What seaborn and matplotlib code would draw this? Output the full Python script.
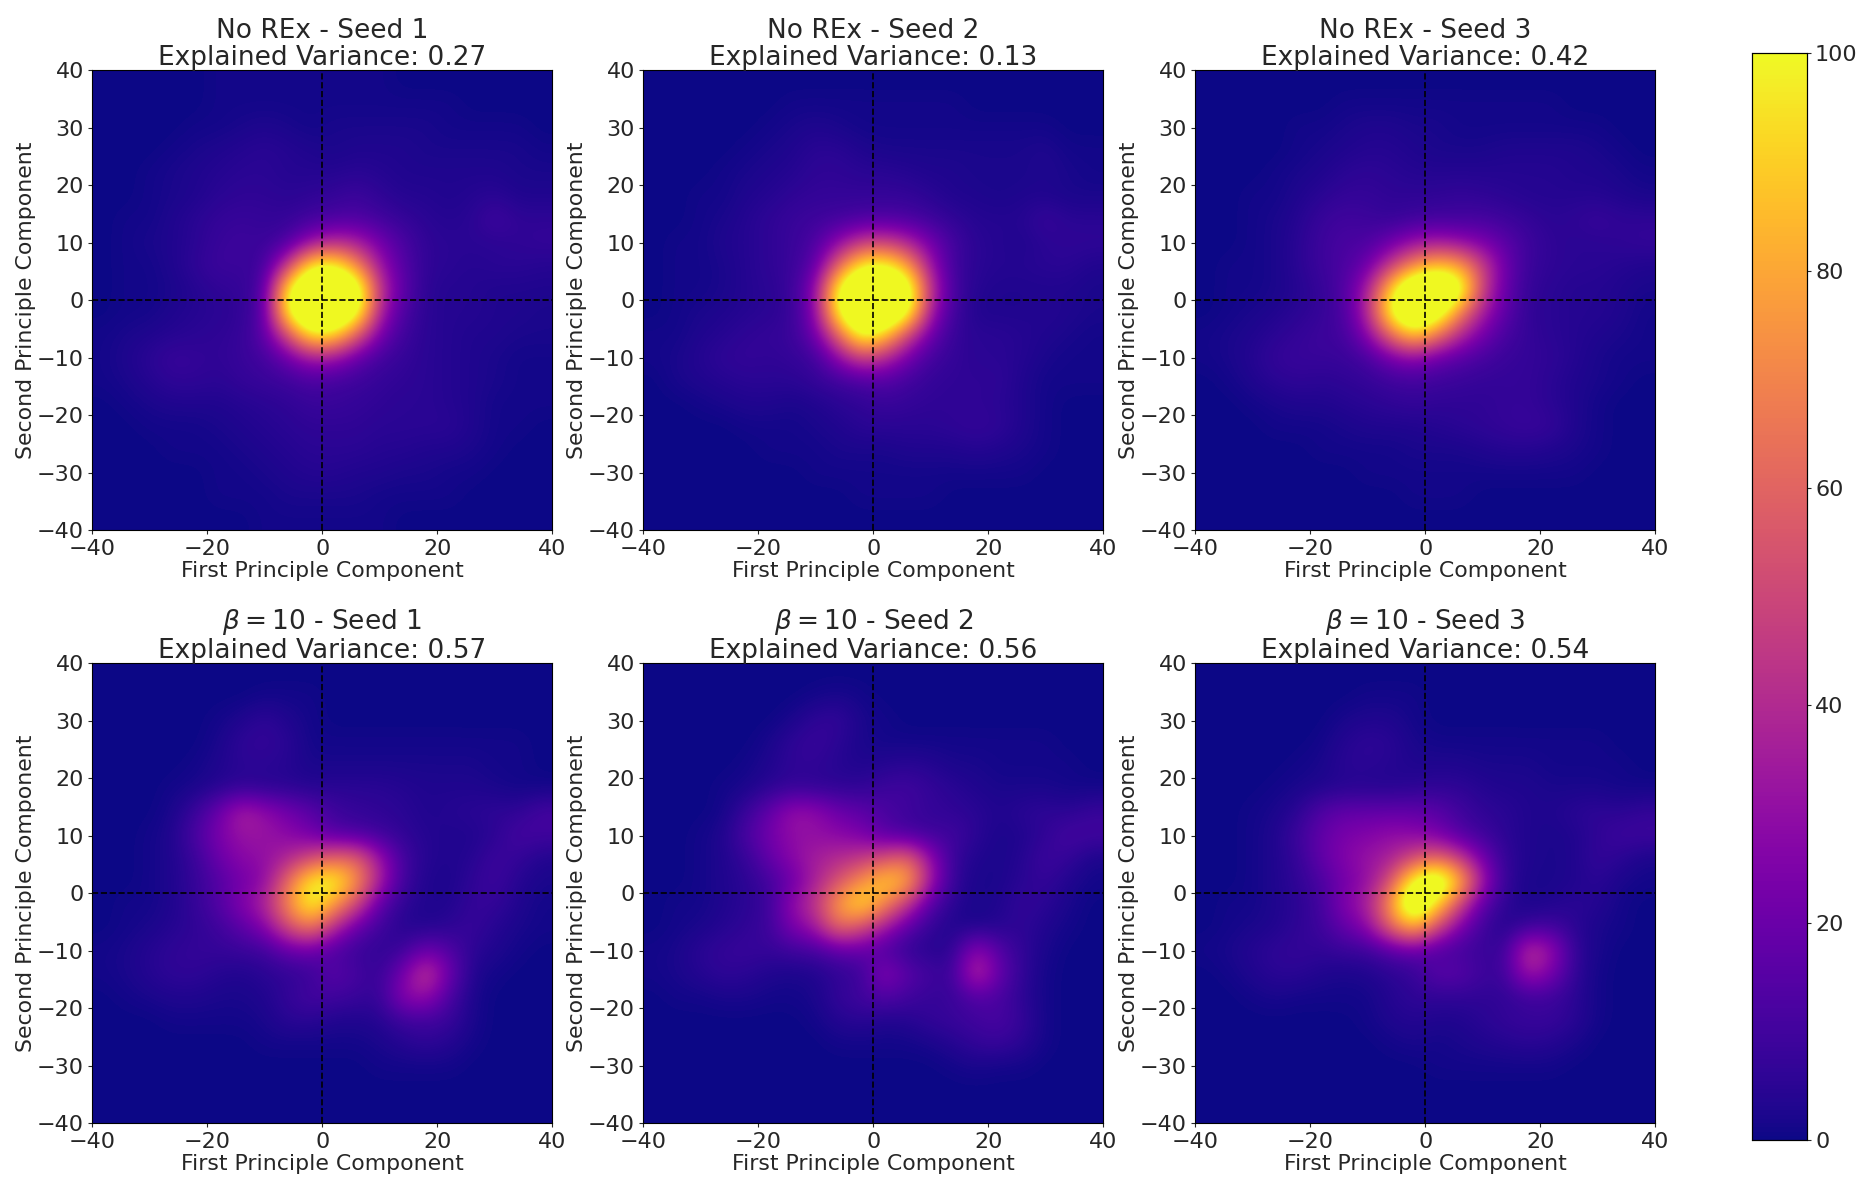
#!/usr/bin/env python3
"""
PCA density heatmaps: No REx vs beta=10, three seeds each
Cell values read off the reference, 4 units per cell, top row is y=38
"""

import numpy as np
import matplotlib
matplotlib.use('Agg')
import matplotlib.pyplot as plt
import seaborn as sns

no_rex_seed1 = [
    [0, 0, 0, 0, 0, 1, 1, 1, 1, 1, 1, 1, 1, 0, 0, 0, 0, 0, 0, 0],
    [0, 0, 0, 0, 0, 1, 1, 1, 1, 1, 1, 1, 1, 1, 1, 1, 0, 0, 0, 0],
    [0, 0, 0, 0, 1, 1, 2, 3, 2, 1, 2, 2, 2, 2, 2, 1, 1, 1, 1, 0],
    [0, 0, 0, 1, 2, 3, 4, 5, 4, 3, 2, 3, 3, 3, 2, 2, 2, 2, 2, 1],
    [0, 0, 1, 2, 3, 4, 5, 5, 4, 4, 4, 5, 4, 3, 3, 3, 3, 3, 2, 2],
    [0, 0, 1, 2, 3, 5, 6, 6, 5, 6, 7, 9, 6, 4, 4, 3, 4, 5, 3, 3],
    [0, 1, 1, 3, 5, 7, 8, 7, 7, 10, 12, 13, 10, 7, 5, 4, 5, 10, 6, 6],
    [0, 1, 2, 3, 5, 8, 9, 8, 12, 30, 40, 36, 22, 12, 6, 5, 5, 5, 6, 7],
    [0, 1, 1, 3, 6, 9, 8, 9, 45, 100, 105, 72, 32, 14, 6, 5, 4, 5, 5, 4],
    [0, 1, 1, 2, 4, 6, 7, 12, 100, 140, 140, 120, 42, 16, 5, 4, 4, 3, 3, 3],
    [0, 1, 1, 3, 4, 5, 6, 14, 105, 140, 140, 112, 36, 12, 5, 4, 4, 3, 3, 2],
    [1, 2, 3, 4, 5, 6, 7, 16, 52, 100, 95, 58, 22, 9, 5, 4, 3, 3, 2, 2],
    [1, 3, 5, 8, 7, 6, 8, 10, 20, 34, 32, 18, 10, 7, 5, 4, 3, 2, 1, 1],
    [1, 2, 4, 6, 6, 5, 7, 8, 9, 12, 10, 9, 7, 6, 5, 4, 3, 2, 1, 1],
    [0, 1, 2, 3, 3, 3, 4, 5, 6, 8, 8, 7, 6, 5, 5, 4, 3, 1, 1, 1],
    [0, 0, 1, 1, 1, 2, 3, 4, 5, 6, 6, 6, 5, 5, 5, 5, 3, 1, 1, 0],
    [0, 0, 0, 1, 1, 1, 2, 3, 4, 5, 5, 5, 4, 4, 3, 3, 2, 1, 0, 0],
    [0, 0, 0, 0, 0, 1, 1, 2, 3, 4, 4, 3, 3, 2, 2, 1, 1, 0, 0, 0],
    [0, 0, 0, 0, 0, 1, 1, 1, 2, 2, 2, 2, 1, 1, 1, 1, 0, 0, 0, 0],
    [0, 0, 0, 0, 0, 0, 0, 1, 1, 1, 1, 1, 1, 0, 0, 0, 0, 0, 0, 0],
]

no_rex_seed2 = [
    [0, 0, 0, 0, 0, 0, 0, 0, 0, 0, 0, 0, 0, 0, 0, 0, 0, 0, 0, 0],
    [0, 0, 0, 0, 0, 0, 1, 1, 1, 1, 1, 1, 1, 1, 0, 0, 0, 0, 0, 0],
    [0, 0, 0, 0, 0, 1, 2, 3, 2, 1, 1, 1, 1, 1, 1, 1, 1, 1, 0, 0],
    [0, 0, 0, 0, 1, 2, 3, 5, 5, 3, 2, 2, 2, 2, 2, 2, 2, 3, 1, 1],
    [0, 0, 0, 1, 2, 3, 4, 6, 6, 5, 5, 4, 3, 3, 2, 2, 2, 3, 2, 1],
    [0, 0, 1, 1, 3, 4, 6, 7, 7, 7, 7, 7, 5, 3, 3, 2, 3, 3, 2, 2],
    [0, 0, 1, 2, 4, 6, 8, 9, 10, 12, 13, 12, 9, 6, 4, 4, 4, 8, 5, 5],
    [0, 1, 1, 3, 4, 6, 8, 12, 28, 45, 48, 38, 22, 10, 5, 4, 3, 5, 6, 6],
    [0, 1, 1, 2, 4, 6, 8, 16, 60, 100, 105, 80, 32, 9, 5, 4, 4, 5, 5, 3],
    [0, 1, 1, 2, 4, 5, 8, 26, 105, 140, 140, 120, 42, 10, 4, 3, 3, 3, 3, 2],
    [0, 1, 2, 3, 4, 5, 7, 26, 105, 140, 140, 112, 34, 9, 3, 3, 3, 4, 3, 2],
    [1, 1, 3, 4, 6, 7, 8, 20, 60, 110, 92, 50, 20, 7, 5, 5, 4, 3, 2, 1],
    [1, 2, 4, 6, 7, 6, 7, 9, 28, 48, 40, 22, 10, 7, 5, 5, 4, 2, 1, 1],
    [0, 2, 3, 4, 5, 5, 5, 7, 9, 12, 14, 10, 7, 6, 6, 6, 3, 1, 1, 1],
    [0, 0, 1, 2, 3, 3, 2, 3, 5, 6, 8, 7, 6, 6, 6, 5, 3, 1, 0, 0],
    [0, 0, 0, 0, 1, 1, 1, 2, 3, 5, 5, 5, 5, 6, 7, 6, 3, 1, 0, 0],
    [0, 0, 0, 0, 0, 1, 1, 1, 2, 2, 2, 3, 3, 3, 4, 3, 2, 1, 0, 0],
    [0, 0, 0, 0, 0, 0, 0, 1, 1, 1, 1, 1, 1, 1, 1, 1, 1, 0, 0, 0],
    [0, 0, 0, 0, 0, 0, 0, 0, 0, 1, 1, 1, 1, 0, 0, 0, 0, 0, 0, 0],
    [0, 0, 0, 0, 0, 0, 0, 0, 0, 0, 0, 0, 0, 0, 0, 0, 0, 0, 0, 0],
]

no_rex_seed3 = [
    [0, 0, 0, 0, 0, 0, 0, 0, 0, 0, 0, 0, 0, 0, 0, 0, 0, 0, 0, 0],
    [0, 0, 0, 0, 0, 0, 1, 1, 1, 1, 1, 1, 1, 1, 1, 1, 0, 0, 0, 0],
    [0, 0, 0, 0, 1, 1, 2, 3, 3, 2, 2, 1, 1, 1, 1, 1, 1, 1, 0, 0],
    [0, 0, 0, 0, 1, 2, 3, 4, 4, 3, 2, 2, 2, 3, 3, 3, 3, 2, 1, 0],
    [0, 0, 0, 1, 2, 3, 5, 6, 5, 4, 4, 4, 4, 4, 4, 4, 3, 3, 2, 1],
    [0, 0, 1, 1, 3, 5, 7, 7, 6, 6, 6, 7, 6, 5, 4, 4, 4, 4, 3, 2],
    [0, 0, 1, 2, 4, 8, 10, 9, 7, 9, 10, 10, 11, 9, 7, 5, 6, 8, 6, 6],
    [0, 0, 1, 2, 5, 9, 12, 12, 20, 30, 34, 30, 24, 16, 9, 6, 5, 5, 6, 7],
    [0, 1, 1, 2, 5, 9, 12, 20, 45, 72, 88, 80, 48, 20, 8, 6, 5, 5, 4, 3],
    [0, 1, 1, 2, 4, 7, 13, 34, 90, 135, 140, 118, 48, 18, 7, 5, 4, 4, 3, 2],
    [0, 1, 2, 3, 5, 7, 12, 38, 105, 140, 122, 72, 36, 16, 6, 5, 4, 4, 3, 1],
    [1, 2, 3, 5, 7, 9, 10, 26, 62, 92, 68, 40, 22, 11, 7, 5, 4, 3, 2, 1],
    [1, 2, 4, 7, 8, 8, 8, 11, 22, 28, 20, 15, 11, 8, 7, 6, 4, 2, 1, 1],
    [0, 1, 3, 5, 6, 5, 6, 7, 9, 10, 9, 8, 7, 7, 7, 5, 3, 2, 1, 0],
    [0, 0, 1, 2, 3, 3, 4, 5, 6, 7, 6, 6, 6, 7, 7, 5, 3, 1, 0, 0],
    [0, 0, 0, 1, 1, 1, 2, 3, 3, 3, 4, 5, 6, 7, 8, 7, 3, 1, 0, 0],
    [0, 0, 0, 0, 0, 1, 1, 1, 1, 2, 2, 2, 3, 4, 4, 3, 2, 1, 0, 0],
    [0, 0, 0, 0, 0, 0, 0, 1, 1, 1, 1, 1, 1, 1, 1, 1, 1, 0, 0, 0],
    [0, 0, 0, 0, 0, 0, 0, 0, 0, 1, 1, 1, 0, 0, 0, 0, 0, 0, 0, 0],
    [0, 0, 0, 0, 0, 0, 0, 0, 0, 0, 0, 0, 0, 0, 0, 0, 0, 0, 0, 0],
]

beta_seed1 = [
    [0, 0, 0, 0, 0, 0, 0, 0, 0, 0, 0, 0, 0, 0, 0, 0, 0, 0, 0, 0],
    [0, 0, 0, 0, 0, 0, 0, 1, 1, 1, 0, 0, 0, 0, 0, 0, 0, 0, 0, 0],
    [0, 0, 0, 0, 0, 1, 3, 6, 3, 1, 0, 0, 0, 0, 0, 0, 0, 0, 0, 0],
    [0, 0, 0, 0, 0, 2, 6, 7, 5, 1, 1, 1, 1, 1, 1, 1, 1, 1, 1, 0],
    [0, 0, 0, 0, 1, 3, 5, 5, 4, 2, 2, 2, 2, 2, 2, 2, 2, 1, 1, 0],
    [0, 0, 0, 1, 2, 4, 6, 5, 5, 4, 5, 5, 5, 4, 3, 3, 3, 2, 1, 1],
    [0, 0, 0, 2, 8, 20, 38, 30, 22, 16, 9, 7, 6, 5, 3, 4, 5, 6, 6, 11],
    [0, 0, 1, 3, 12, 24, 32, 32, 28, 22, 14, 12, 9, 6, 4, 3, 3, 5, 11, 10],
    [0, 0, 1, 3, 8, 20, 28, 30, 38, 50, 60, 60, 32, 10, 4, 3, 4, 9, 7, 3],
    [0, 0, 1, 3, 7, 14, 22, 28, 62, 100, 105, 75, 36, 9, 3, 2, 6, 9, 4, 2],
    [0, 1, 1, 3, 7, 14, 26, 38, 72, 105, 78, 50, 16, 5, 3, 3, 7, 7, 3, 1],
    [0, 1, 2, 4, 6, 9, 16, 26, 52, 68, 40, 18, 9, 4, 3, 5, 8, 4, 2, 1],
    [1, 2, 4, 6, 7, 7, 8, 9, 18, 20, 12, 8, 6, 8, 20, 14, 5, 3, 1, 0],
    [1, 2, 4, 6, 6, 4, 3, 5, 6, 8, 16, 11, 7, 22, 48, 20, 3, 1, 0, 0],
    [0, 1, 2, 3, 3, 2, 2, 3, 7, 11, 10, 8, 7, 28, 32, 12, 2, 0, 0, 0],
    [0, 0, 0, 1, 1, 1, 1, 2, 5, 5, 3, 3, 4, 9, 10, 8, 2, 0, 0, 0],
    [0, 0, 0, 0, 0, 0, 0, 1, 1, 1, 1, 1, 2, 4, 6, 4, 1, 0, 0, 0],
    [0, 0, 0, 0, 0, 0, 0, 0, 0, 0, 0, 0, 1, 1, 1, 1, 0, 0, 0, 0],
    [0, 0, 0, 0, 0, 0, 0, 0, 0, 0, 0, 0, 0, 0, 0, 0, 0, 0, 0, 0],
    [0, 0, 0, 0, 0, 0, 0, 0, 0, 0, 0, 0, 0, 0, 0, 0, 0, 0, 0, 0],
]

beta_seed2 = [
    [0, 0, 0, 0, 0, 0, 0, 0, 0, 0, 0, 0, 0, 0, 0, 0, 0, 0, 0, 0],
    [0, 0, 0, 0, 0, 0, 0, 1, 2, 1, 0, 0, 0, 0, 0, 0, 0, 0, 0, 0],
    [0, 0, 0, 0, 0, 0, 2, 6, 7, 2, 1, 0, 0, 0, 0, 0, 0, 0, 0, 0],
    [0, 0, 0, 0, 0, 2, 6, 8, 5, 2, 1, 1, 1, 1, 1, 1, 1, 1, 0, 0],
    [0, 0, 0, 0, 1, 3, 6, 6, 4, 3, 4, 5, 4, 2, 2, 1, 1, 1, 1, 0],
    [0, 0, 0, 1, 2, 5, 7, 6, 6, 6, 9, 10, 7, 5, 3, 2, 2, 2, 1, 1],
    [0, 0, 0, 1, 8, 18, 32, 30, 20, 17, 12, 9, 7, 6, 5, 3, 5, 6, 5, 8],
    [0, 0, 1, 3, 12, 22, 30, 30, 28, 24, 15, 11, 9, 10, 5, 2, 3, 6, 11, 10],
    [0, 0, 1, 3, 7, 18, 28, 36, 40, 44, 52, 62, 30, 7, 3, 2, 4, 9, 7, 2],
    [0, 0, 1, 3, 5, 10, 20, 36, 54, 74, 92, 84, 34, 6, 2, 2, 5, 7, 3, 1],
    [0, 1, 1, 3, 5, 8, 30, 44, 78, 98, 72, 44, 14, 4, 2, 3, 7, 5, 2, 0],
    [0, 1, 2, 4, 6, 9, 24, 34, 64, 52, 34, 16, 6, 3, 2, 4, 6, 3, 1, 0],
    [1, 2, 5, 7, 8, 7, 9, 10, 16, 18, 12, 6, 4, 5, 30, 14, 6, 2, 0, 0],
    [1, 2, 4, 6, 5, 3, 2, 3, 6, 8, 28, 16, 10, 8, 45, 18, 6, 1, 0, 0],
    [0, 1, 1, 2, 2, 1, 1, 2, 7, 10, 14, 10, 7, 8, 14, 12, 5, 1, 0, 0],
    [0, 0, 0, 0, 0, 0, 0, 1, 4, 5, 3, 4, 7, 8, 10, 12, 7, 1, 0, 0],
    [0, 0, 0, 0, 0, 0, 0, 0, 1, 1, 1, 1, 2, 4, 7, 8, 5, 1, 0, 0],
    [0, 0, 0, 0, 0, 0, 0, 0, 0, 0, 0, 0, 0, 1, 2, 1, 1, 0, 0, 0],
    [0, 0, 0, 0, 0, 0, 0, 0, 0, 0, 0, 0, 0, 0, 0, 0, 0, 0, 0, 0],
    [0, 0, 0, 0, 0, 0, 0, 0, 0, 0, 0, 0, 0, 0, 0, 0, 0, 0, 0, 0],
]

beta_seed3 = [
    [0, 0, 0, 0, 0, 0, 0, 0, 0, 0, 0, 0, 0, 0, 0, 0, 0, 0, 0, 0],
    [0, 0, 0, 0, 0, 0, 0, 1, 1, 1, 0, 0, 0, 0, 0, 0, 0, 0, 0, 0],
    [0, 0, 0, 0, 0, 0, 2, 3, 3, 1, 0, 0, 0, 0, 0, 0, 0, 0, 0, 0],
    [0, 0, 0, 0, 0, 1, 4, 6, 5, 2, 1, 1, 1, 1, 1, 1, 1, 1, 0, 0],
    [0, 0, 0, 0, 1, 2, 5, 5, 4, 3, 3, 3, 2, 2, 2, 1, 1, 1, 1, 0],
    [0, 0, 0, 1, 2, 3, 4, 4, 4, 5, 6, 6, 4, 3, 3, 2, 2, 2, 1, 1],
    [0, 0, 1, 2, 5, 14, 18, 18, 18, 18, 16, 10, 6, 5, 3, 3, 5, 6, 5, 7],
    [0, 0, 1, 3, 9, 18, 24, 26, 30, 28, 24, 14, 9, 5, 3, 2, 3, 6, 9, 9],
    [0, 0, 1, 3, 7, 18, 26, 32, 36, 50, 60, 46, 22, 6, 3, 2, 3, 7, 5, 2],
    [0, 0, 1, 3, 6, 12, 22, 30, 52, 105, 130, 88, 34, 6, 2, 2, 3, 5, 2, 1],
    [0, 1, 1, 3, 5, 10, 26, 36, 75, 135, 95, 50, 16, 5, 2, 3, 5, 4, 1, 0],
    [0, 1, 2, 3, 6, 9, 18, 28, 60, 85, 52, 24, 9, 3, 8, 10, 5, 2, 1, 0],
    [1, 2, 4, 6, 7, 6, 8, 8, 14, 18, 12, 10, 8, 8, 45, 32, 6, 2, 0, 0],
    [0, 1, 3, 5, 5, 3, 2, 3, 5, 7, 16, 16, 9, 9, 36, 24, 6, 1, 0, 0],
    [0, 0, 1, 2, 1, 1, 1, 1, 4, 6, 6, 6, 6, 6, 9, 9, 5, 1, 0, 0],
    [0, 0, 0, 0, 0, 0, 0, 1, 3, 4, 3, 3, 5, 7, 8, 8, 5, 1, 0, 0],
    [0, 0, 0, 0, 0, 0, 0, 0, 1, 2, 1, 2, 3, 4, 5, 4, 2, 0, 0, 0],
    [0, 0, 0, 0, 0, 0, 0, 0, 0, 0, 1, 1, 1, 1, 1, 1, 0, 0, 0, 0],
    [0, 0, 0, 0, 0, 0, 0, 0, 0, 0, 0, 0, 0, 0, 0, 0, 0, 0, 0, 0],
    [0, 0, 0, 0, 0, 0, 0, 0, 0, 0, 0, 0, 0, 0, 0, 0, 0, 0, 0, 0],
]

grids = [no_rex_seed1, no_rex_seed2, no_rex_seed3,
         beta_seed1, beta_seed2, beta_seed3]
titles = ['No REx - Seed 1', 'No REx - Seed 2', 'No REx - Seed 3',
          r'$\beta = 10$ - Seed 1', r'$\beta = 10$ - Seed 2', r'$\beta = 10$ - Seed 3']
explained_variance = ['0.27', '0.13', '0.42', '0.57', '0.56', '0.54']
x_tick_values = [-40, -20, 0, 20, 40]
y_tick_values = [40, 30, 20, 10, 0, -10, -20, -30, -40]
cbar_ticks = [0, 20, 40, 60, 80, 100]

W, H = 1869, 1188
panel_lefts = [92.3, 643.3, 1195.3]
panel_tops = [70.3, 663.3]
panel_size = 460


def add_axes_px(fig, left, top, width, height):
    return fig.add_axes([left / W, 1 - (top + height) / H, width / W, height / H])


def to_cell(value, flip=False):
    # heatmap axes count cells from 0, each cell spans 4 data units
    return (40 - value) / 4 if flip else (value + 40) / 4


sns.set_style('white')
plt.rcParams['font.family'] = ['DejaVu Sans']

fig = plt.figure(figsize=(W / 100, H / 100), dpi=100)
cax = add_axes_px(fig, 1752.3, 53.3, 54.4, 1086.7)

for i, grid in enumerate(grids):
    values = np.array(grid, dtype=float)
    n_rows, n_cols = values.shape
    ax = add_axes_px(fig, panel_lefts[i % 3], panel_tops[i // 3], panel_size, panel_size)
    last = i == len(grids) - 1
    sns.heatmap(values, ax=ax, cmap='plasma', vmin=0, vmax=100, square=False,
                cbar=last, cbar_ax=cax if last else None,
                xticklabels=False, yticklabels=False)

    # smooth the cells when drawn, the reference is a much finer histogram
    ax.collections[0].set_visible(False)
    ax.imshow(values, extent=(0, n_cols, n_rows, 0), cmap='plasma', vmin=0, vmax=100,
              interpolation='bicubic', aspect='auto', zorder=1)
    ax.set_xlim(0, n_cols)
    ax.set_ylim(n_rows, 0)

    ax.set_xticks([to_cell(v) for v in x_tick_values])
    ax.set_xticklabels([str(v).replace('-', '\u2212') for v in x_tick_values], rotation=0)
    ax.set_yticks([to_cell(v, flip=True) for v in y_tick_values])
    ax.set_yticklabels([str(v).replace('-', '\u2212') for v in y_tick_values], rotation=0)
    ax.tick_params(axis='both', labelsize=16, length=3, width=0.8, pad=3, left=True, bottom=True)
    ax.axhline(to_cell(0, flip=True), color='black', linestyle='--', linewidth=1.2, zorder=2)
    ax.axvline(to_cell(0), color='black', linestyle='--', linewidth=1.2, zorder=2)

    ax.set_xlabel('First Principle Component', fontsize=15.8, labelpad=2)
    ax.set_ylabel('Second Principle Component', fontsize=15.8, labelpad=1)
    ax.set_title(f'{titles[i]}\nExplained Variance: {explained_variance[i]}', fontsize=19,
                 pad=4, linespacing=1.05)
    for spine in ax.spines.values():
        spine.set_visible(True)
        spine.set_color('black')
        spine.set_linewidth(0.8)

cax.set_yticks(cbar_ticks)
cax.tick_params(axis='y', labelsize=16, length=3, width=0.8, pad=3, right=True)
for spine in cax.spines.values():
    spine.set_visible(True)
    spine.set_color('black')
    spine.set_linewidth(0.8)

fig.savefig('out.png', dpi=100)
